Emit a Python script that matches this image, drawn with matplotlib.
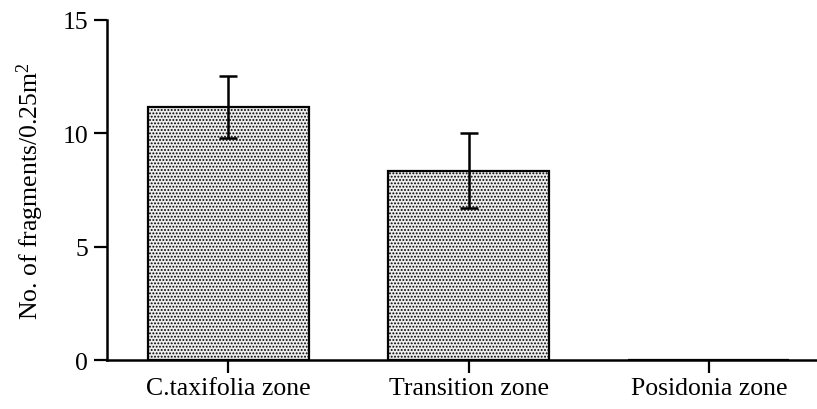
import matplotlib
matplotlib.use("Agg")
import matplotlib.pyplot as plt

# Fragment counts per zone (mean and error)
zones = ["C.taxifolia zone", "Transition zone", "Posidonia zone"]
means = [11.15, 8.35, 0.0]
errors = [1.37, 1.65, 0.0]
y_ticks = [0, 5, 10, 15]

plt.rcParams["font.family"] = ["Liberation Serif", "DejaVu Serif"]
plt.rcParams["mathtext.fontset"] = "custom"
plt.rcParams["mathtext.rm"] = "Liberation Serif"
plt.rcParams["mathtext.it"] = "Liberation Serif:italic"
plt.rcParams["hatch.color"] = "#7a7a7a"
plt.rcParams["hatch.linewidth"] = 0.9

fig = plt.figure(figsize=(8.17, 4.10), dpi=100)
ax = fig.add_axes([0.131, 0.1195, 0.869, 0.8293])

x = list(range(len(zones)))
ax.bar(x, means, width=0.67, facecolor="#eeeeee", edgecolor="black",
       linewidth=1.6, hatch=".....", zorder=2)
ax.errorbar(x[:2], means[:2], yerr=errors[:2], fmt="none", ecolor="black",
            elinewidth=1.8, capsize=6.5, capthick=1.8, zorder=3)

ax.set_xlim(-0.505, 2.45)
ax.set_ylim(0, 15)
ax.set_yticks(y_ticks)
ax.set_xticks(x)
ax.set_xticklabels(zones)

for side in ("top", "right"):
    ax.spines[side].set_visible(False)
for side in ("left", "bottom"):
    ax.spines[side].set_linewidth(1.8)

ax.tick_params(axis="both", direction="out", width=1.6, labelsize=18.5,
               colors="black")
ax.tick_params(axis="y", length=9.5, pad=4)
ax.tick_params(axis="x", length=9, pad=3)

ax.set_ylabel("No. of fragments/0.25m$^{2}$", fontsize=18.5, labelpad=12)

fig.savefig("out.png", dpi=100)
